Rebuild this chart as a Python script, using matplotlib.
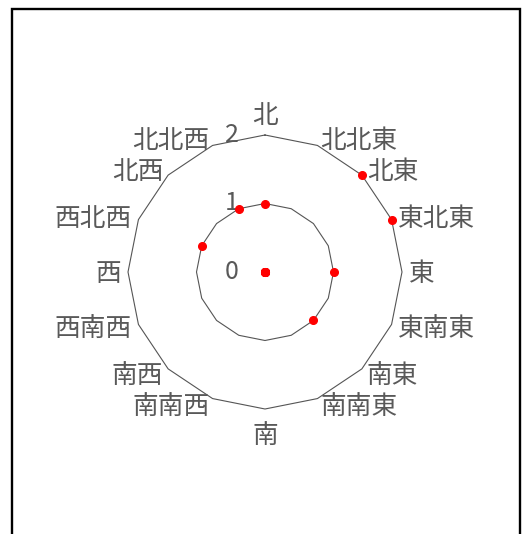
import numpy as np
import matplotlib.pyplot as plt
import matplotlib.transforms as mtransforms
from matplotlib.patches import Rectangle

plt.rcParams['font.family'] = ['Noto Sans CJK JP', 'DejaVu Sans']

# 16 compass directions, clockwise from north
directions = ['北', '北北東', '北東', '東北東', '東', '東南東', '南東', '南南東',
              '南', '南南西', '南西', '西南西', '西', '西北西', '北西', '北北西']
values = [1, 0, 2, 2, 1, 0, 1, 0, 0, 0, 0, 0, 0, 1, 0, 1]
rings = [1, 2]
ring_labels = ['0', '1', '2']

text_col = '#595959'
grid_col = '#555555'

W, H = 523, 534
fig = plt.figure(figsize=(W / 100, H / 100), dpi=100)

# outer frame (bottom edge lies outside the picture)
fig.patches.append(Rectangle((11.5 / W, -0.05), 508 / W, 1 - 8.5 / H + 0.05,
                             transform=fig.transFigure, fill=False,
                             edgecolor='black', lw=1.7))

ax = fig.add_axes([128 / W, (H - 409) / H, 274 / W, 274 / H], projection='polar')
ax.set_theta_zero_location('N')
ax.set_theta_direction(-1)
ax.set_ylim(0, 2)
ax.grid(False)
ax.set_xticks([])
ax.set_yticks([])
ax.spines['polar'].set_visible(False)
ax.patch.set_visible(False)

theta = np.deg2rad(np.arange(len(directions)) * 360 / len(directions))
closed = np.append(theta, theta[0])

# polygon grid rings
for r in rings:
    ax.plot(closed, [r] * len(closed), color=grid_col, lw=0.8, clip_on=False)

# data points
ax.plot(theta, values, 'o', color='red', ms=5.5, clip_on=False, zorder=5)

# direction labels
pad = 7
for th, lab in zip(theta, directions):
    s, c = np.sin(th), np.cos(th)
    if abs(s) < 1e-6:
        ha = 'center'
        va = 'bottom' if c > 0 else 'top'
        dy = 6 if c > 0 else -14
        dx = 0
    else:
        ha = 'left' if s > 0 else 'right'
        va = 'center'
        dx, dy = pad * s, pad * c - 2
    tr = mtransforms.offset_copy(ax.transData, fig, x=dx, y=dy, units='dots')
    ax.text(th, 2, lab, transform=tr, ha=ha, va=va, fontsize=18.5,
            color=text_col)

# radial labels
for i, lab in enumerate(ring_labels):
    tr = mtransforms.offset_copy(ax.transData, fig, x=-33, y=0, units='dots')
    ax.text(0, i, lab, transform=tr, ha='center', va='center', fontsize=18,
            color=text_col)

fig.savefig('out.png', dpi=100)
